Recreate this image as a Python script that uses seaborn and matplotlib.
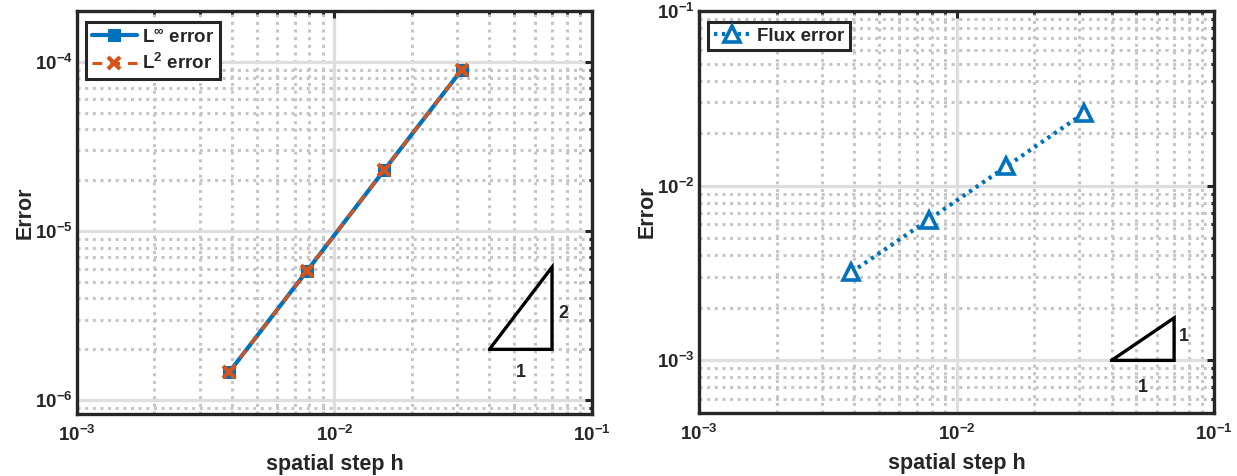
import numpy as np
import pandas as pd
import matplotlib
matplotlib.use("Agg")
import matplotlib.pyplot as plt
from matplotlib.ticker import LogLocator, NullFormatter, LogFormatterMathtext
import seaborn as sns

# Mesh sizes and measured errors
h_values = [1/256, 1/128, 1/64, 1/32]
err_linf = [1.47e-6, 5.8e-6, 2.3e-5, 9.0e-5]
err_l2 = [1.47e-6, 5.8e-6, 2.3e-5, 9.0e-5]
err_flux = [3.2e-3, 6.4e-3, 1.29e-2, 2.6e-2]

# Slope indicators (x range, base height)
slope2_x = [0.04, 0.07]
slope2_base = 2e-6
slope1_x = [0.04, 0.07]
slope1_base = 1e-3

BLUE = "#0072BD"
ORANGE = "#D95319"
DARK = "#262626"

sns.set_style("white")
plt.rcParams.update({
    "font.family": ["Liberation Sans", "DejaVu Sans"],
    "font.weight": "bold",
    "axes.labelweight": "bold",
    "axes.unicode_minus": False,
    "mathtext.fontset": "custom",
    "mathtext.rm": "Liberation Sans:bold",
    "mathtext.bf": "Liberation Sans:bold",
    "mathtext.it": "Liberation Sans:bold",
    "mathtext.default": "bf",
    "axes.edgecolor": DARK,
    "axes.linewidth": 2.2,
    "xtick.color": DARK,
    "ytick.color": DARK,
    "xtick.labelcolor": DARK,
    "ytick.labelcolor": DARK,
})

df = pd.DataFrame({"h": h_values, "linf": err_linf, "l2": err_l2, "flux": err_flux})

fig = plt.figure(figsize=(12.37, 4.76), dpi=100)
ax1 = fig.add_axes([0.0622, 0.1303, 0.4163, 0.8466])
ax2 = fig.add_axes([0.5651, 0.1324, 0.4163, 0.8445])


def style_axes(ax, ylim):
    ax.set_xscale("log")
    ax.set_yscale("log")
    ax.set_xlim(1e-3, 1e-1)
    ax.set_ylim(*ylim)
    for axis in (ax.xaxis, ax.yaxis):
        axis.set_major_locator(LogLocator(base=10, numticks=20))
        axis.set_minor_locator(LogLocator(base=10, subs=np.arange(2, 10), numticks=20))
        axis.set_minor_formatter(NullFormatter())
        axis.set_major_formatter(LogFormatterMathtext())
    ax.grid(True, which="major", color="#dedede", linewidth=2.3, linestyle="-")
    ax.grid(True, which="minor", color="#c6c6c6", linewidth=2.2, linestyle=(0, (1, 1.5)))
    ax.set_axisbelow(True)
    ax.tick_params(which="both", direction="in", top=True, right=True,
                   width=2.2, labelsize=13.5)
    ax.tick_params(axis="x", which="both", pad=8)
    ax.tick_params(axis="y", which="both", pad=3)
    ax.tick_params(which="major", length=5)
    ax.tick_params(which="minor", length=2.5)
    for s in ax.spines.values():
        s.set_color(DARK)
        s.set_linewidth(2.4)
        s.set_zorder(5)
    ax.set_xlabel("spatial step h", fontsize=15.5, fontweight="bold")
    ax.set_ylabel("Error", fontsize=15.5, fontweight="bold")
    ax.xaxis.set_label_coords(0.5, -0.1)
    ax.yaxis.set_label_coords(-0.08, 0.5)


# Left panel: pointwise and L2 errors
style_axes(ax1, (8.3e-7, 2e-4))
sns.lineplot(data=df, x="h", y="linf", ax=ax1, color=BLUE, linewidth=3.0,
             marker="s", markersize=8.5, markerfacecolor=BLUE, markeredgecolor=BLUE,
             label=r"L$^{\infty}$ error", zorder=3)
sns.lineplot(data=df, x="h", y="l2", ax=ax1, color=ORANGE, linewidth=2.2,
             linestyle=(0, (3.2, 2.6)), marker="x", markersize=8.5,
             markeredgewidth=3.0, markeredgecolor=ORANGE,
             label=r"L$^{2}$ error", zorder=4)

# slope-2 reference triangle
tx = np.array([slope2_x[0], slope2_x[1], slope2_x[1], slope2_x[0]])
ty = np.array([slope2_base, slope2_base,
               slope2_base * (slope2_x[1] / slope2_x[0]) ** 2, slope2_base])
ax1.plot(tx, ty, color="black", linewidth=2.4, zorder=4, solid_joinstyle="miter")
ax1.text(slope2_x[1] * 1.055, np.sqrt(ty[0] * ty[2]) * 0.93, "2", fontsize=13,
         fontweight="bold", ha="left", va="center")
ax1.text(np.sqrt(slope2_x[0] * slope2_x[1]), slope2_base * 0.73, "1", fontsize=13,
         fontweight="bold", ha="center", va="center")

leg1 = ax1.legend(loc="upper left", bbox_to_anchor=(0.0175, 0.973), borderaxespad=0,
                  fontsize=13.5, handlelength=2.4, frameon=True, fancybox=False,
                  edgecolor=DARK, framealpha=1, borderpad=0.3, labelspacing=0.4,
                  handletextpad=0.3)
leg1.get_frame().set_linewidth(2.2)
for t in leg1.get_texts():
    t.set_fontweight("bold")

# Right panel: flux error
style_axes(ax2, (5e-4, 1e-1))
sns.lineplot(data=df, x="h", y="flux", ax=ax2, color=BLUE, linewidth=3.0,
             linestyle=(0, (0.8, 1.1)), marker="^", markersize=11,
             markerfacecolor="white", markeredgecolor=BLUE, markeredgewidth=2.6,
             label="Flux error", zorder=3)

tx2 = np.array([slope1_x[0], slope1_x[1], slope1_x[1], slope1_x[0]])
ty2 = np.array([slope1_base, slope1_base,
                slope1_base * (slope1_x[1] / slope1_x[0]), slope1_base])
ax2.plot(tx2, ty2, color="black", linewidth=2.4, zorder=4, solid_joinstyle="miter")
ax2.text(slope1_x[1] * 1.04, np.sqrt(ty2[0] * ty2[2]) * 1.03, "1", fontsize=13,
         fontweight="bold", ha="left", va="center")
ax2.text(np.sqrt(slope1_x[0] * slope1_x[1]), slope1_base * 0.7, "1", fontsize=13,
         fontweight="bold", ha="center", va="center")

leg2 = ax2.legend(loc="upper left", bbox_to_anchor=(0.0175, 0.973), borderaxespad=0,
                  fontsize=13.5, handlelength=2.0, frameon=True, fancybox=False,
                  edgecolor=DARK, framealpha=1, borderpad=0.3, handletextpad=0.3)
leg2.get_frame().set_linewidth(2.2)
for t in leg2.get_texts():
    t.set_fontweight("bold")

fig.savefig("out.png", dpi=100)
